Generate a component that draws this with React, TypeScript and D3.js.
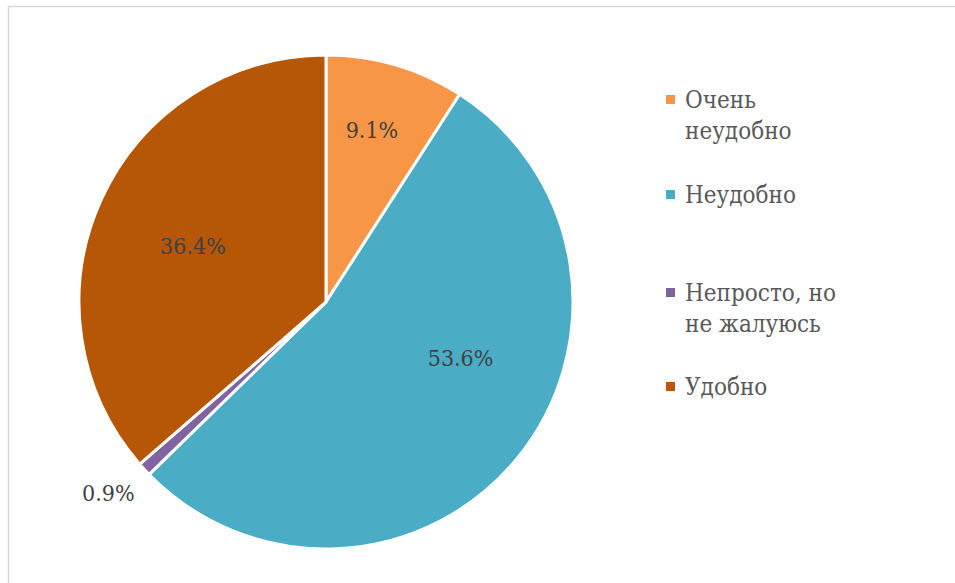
import React from "react";
import * as d3 from "d3";

const categories = ["Очень неудобно", "Неудобно", "Непросто, но не жалуюсь", "Удобно"];
const legendLines = [["Очень", "неудобно"], ["Неудобно"], ["Непросто, но", "не жалуюсь"], ["Удобно"]];
const values = [9.1, 53.6, 0.9, 36.4];
const labels = ["9.1%", "53.6%", "0.9%", "36.4%"];
const colors = ["#F79646", "#4BACC6", "#8064A2", "#B65708"];
// label placement: angle offset (deg) from slice bisector, radius as fraction of R
const labelAngleShift = [-1.4, -16.7, 1.4, -1.5];
const labelRadius = [0.72, 0.59, 1.172, 0.585];

const W = 955, H = 583;
const cx = 326, cy = 302, R = 247;
const font = "'DejaVu Serif Condensed', 'DejaVu Serif', serif";

export default function App() {
  const pie = d3.pie<number>().sort(null).value((d) => d)(values);
  const arc = d3.arc<d3.PieArcDatum<number>>().innerRadius(0).outerRadius(R);
  const legendY = [100, 195, 293, 387];
  return (
    <svg width={W} height={H} style={{ position: "absolute", left: 0, top: 0, background: "#fff" }}>
      <rect x={8.5} y={6.5} width={W} height={H} fill="#fff" stroke="#d9d9d9" strokeWidth={1.5} />
      <g transform={`translate(${cx},${cy})`}>
        {pie.map((p, i) => (
          <path key={i} d={arc(p) || ""} fill={colors[i]} stroke="#fff" strokeWidth={3} strokeLinejoin="round" />
        ))}
        {pie.map((p, i) => {
          const a = (p.startAngle + p.endAngle) / 2 + (labelAngleShift[i] * Math.PI) / 180;
          const r = R * labelRadius[i];
          const x = Math.sin(a) * r;
          const y = -Math.cos(a) * r;
          return (
            <text key={i} x={x} y={y} textAnchor="middle" dominantBaseline="central" fontFamily={font} fontSize={23} fill="#404040">
              {labels[i]}
            </text>
          );
        })}
      </g>
      {categories.map((c, i) => (
        <g key={c}>
          <rect x={666} y={legendY[i] - 5} width={9} height={9} fill={colors[i]} />
          {legendLines[i].map((line, j) => (
            <text key={j} x={685} y={legendY[i] + j * 31} dominantBaseline="central" fontFamily={font} fontSize={24} fill="#595959">
              {line}
            </text>
          ))}
        </g>
      ))}
    </svg>
  );
}
